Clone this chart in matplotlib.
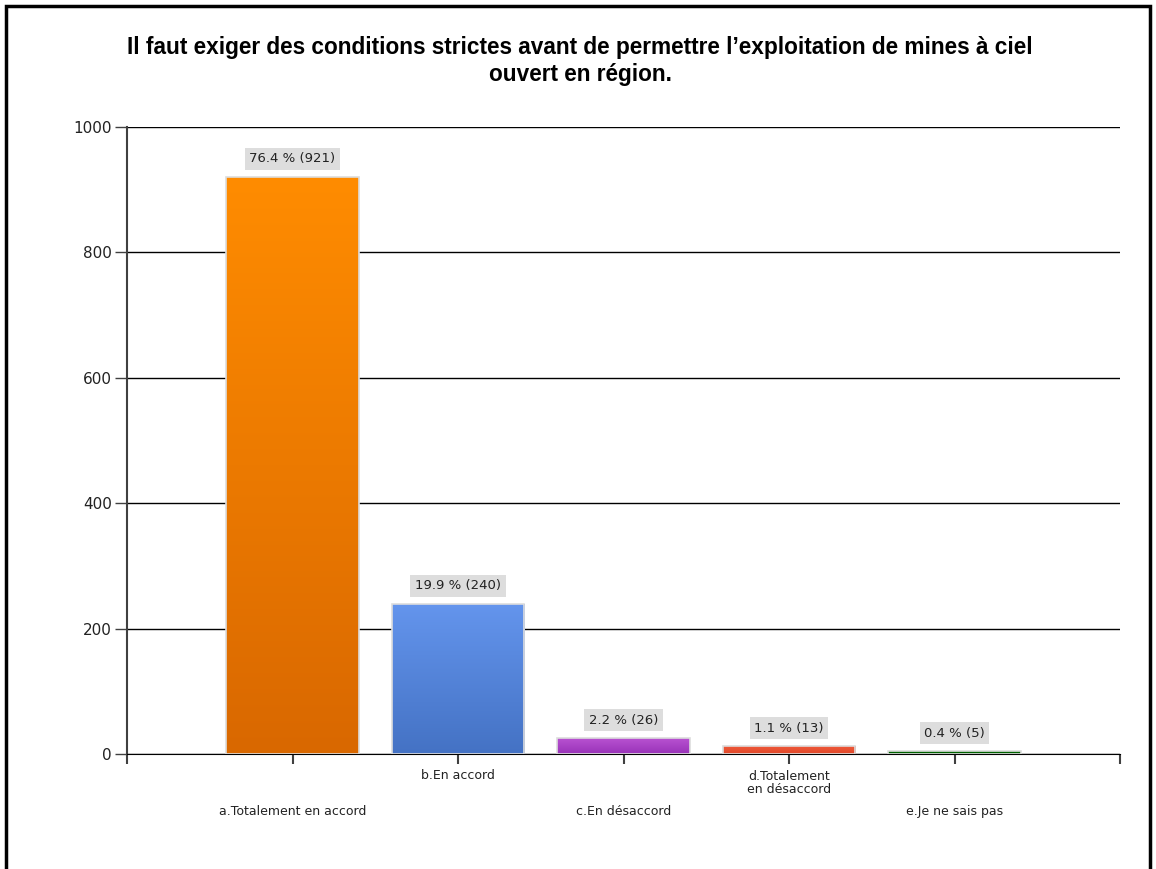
import numpy as np
import matplotlib
matplotlib.use("Agg")
import matplotlib.pyplot as plt
from matplotlib.colors import LinearSegmentedColormap
from matplotlib.patches import Rectangle

categories = ["a.Totalement en accord", "b.En accord", "c.En désaccord",
              "d.Totalement\nen désaccord", "e.Je ne sais pas"]
counts = [921, 240, 26, 13, 5]
percents = [76.4, 19.9, 2.2, 1.1, 0.4]
colors_top = ["#FF8C00", "#6495ED", "#BA55D3", "#F05A3C", "#007000"]
colors_bottom = ["#D96800", "#4472C4", "#9932B8", "#E04828", "#005A00"]
title = "Il faut exiger des conditions strictes avant de permettre l’exploitation de mines à ciel\nouvert en région."

plt.rcParams['font.family'] = ['DejaVu Sans']

fig = plt.figure(figsize=(11.56, 8.69), dpi=100)
ax = fig.add_axes([127 / 1156, 1 - 754 / 869, (1120 - 127) / 1156, (754 - 127) / 869])

x = np.arange(1, len(counts) + 1)
bars = ax.bar(x, counts, width=0.8, color="none", edgecolor="#DDDDDD", linewidth=1.2, zorder=3)

# gradient fill, clipped to each bar
grad = np.linspace(0, 1, 256).reshape(-1, 1)
for b, ct, cb in zip(bars, colors_top, colors_bottom):
    cmap = LinearSegmentedColormap.from_list("g", [cb, ct])
    x0, y0 = b.get_x(), b.get_y()
    w, h = b.get_width(), b.get_height()
    im = ax.imshow(grad, cmap=cmap, aspect="auto", origin="lower",
                   extent=[x0, x0 + w, y0, y0 + h], zorder=2)
    im.set_clip_path(b)

for xi, c, p in zip(x, counts, percents):
    ax.annotate(f"{p} % ({c})", (xi, c), xytext=(0, 8), textcoords="offset points",
                ha="center", va="bottom", fontsize=9.5, color="#222222", zorder=4,
                bbox=dict(boxstyle="square,pad=0.35", fc="#DDDDDD", ec="none"))

ax.set_xlim(0, 6)
ax.set_ylim(0, 1000)
ax.set_yticks([0, 200, 400, 600, 800, 1000])
ax.set_yticklabels(["0", "200", "400", "600", "800", "1000"], fontsize=11, color="#222222")
ax.yaxis.grid(True, color="black", linewidth=1)
ax.set_axisbelow(True)
ax.set_xticks(range(0, 7))
ax.set_xticklabels([""] * 7)
ax.tick_params(axis="x", direction="out", length=7, width=1.5, color="#404040")
ax.tick_params(axis="y", direction="out", length=9, width=1, color="#404040", pad=2)

for s in ["top", "right"]:
    ax.spines[s].set_visible(False)
ax.spines["left"].set_color("#404040")
ax.spines["left"].set_linewidth(1.5)
ax.spines["bottom"].set_color("black")

trans = ax.get_xaxis_transform()
for i, (xi, lab) in enumerate(zip(x, categories)):
    ypos = -0.034 if i % 2 == 1 else -0.091
    if i == 3:
        ypos = -0.046
    ax.text(xi, ypos, lab, transform=trans, ha="center", va="center",
            fontsize=9, color="#222222", linespacing=1.05)

fig.text(0.502, 1 - 61 / 869, title, ha="center", va="center", fontsize=16.3,
         fontweight="bold", family="Liberation Sans", linespacing=1.25)

# figure border
fig.patches.append(Rectangle((6 / 1156, -0.05), 1144 / 1156, 1.05 - 6 / 869,
                             transform=fig.transFigure, fill=False,
                             edgecolor="black", linewidth=2.5))

fig.savefig("out.png", dpi=100)
